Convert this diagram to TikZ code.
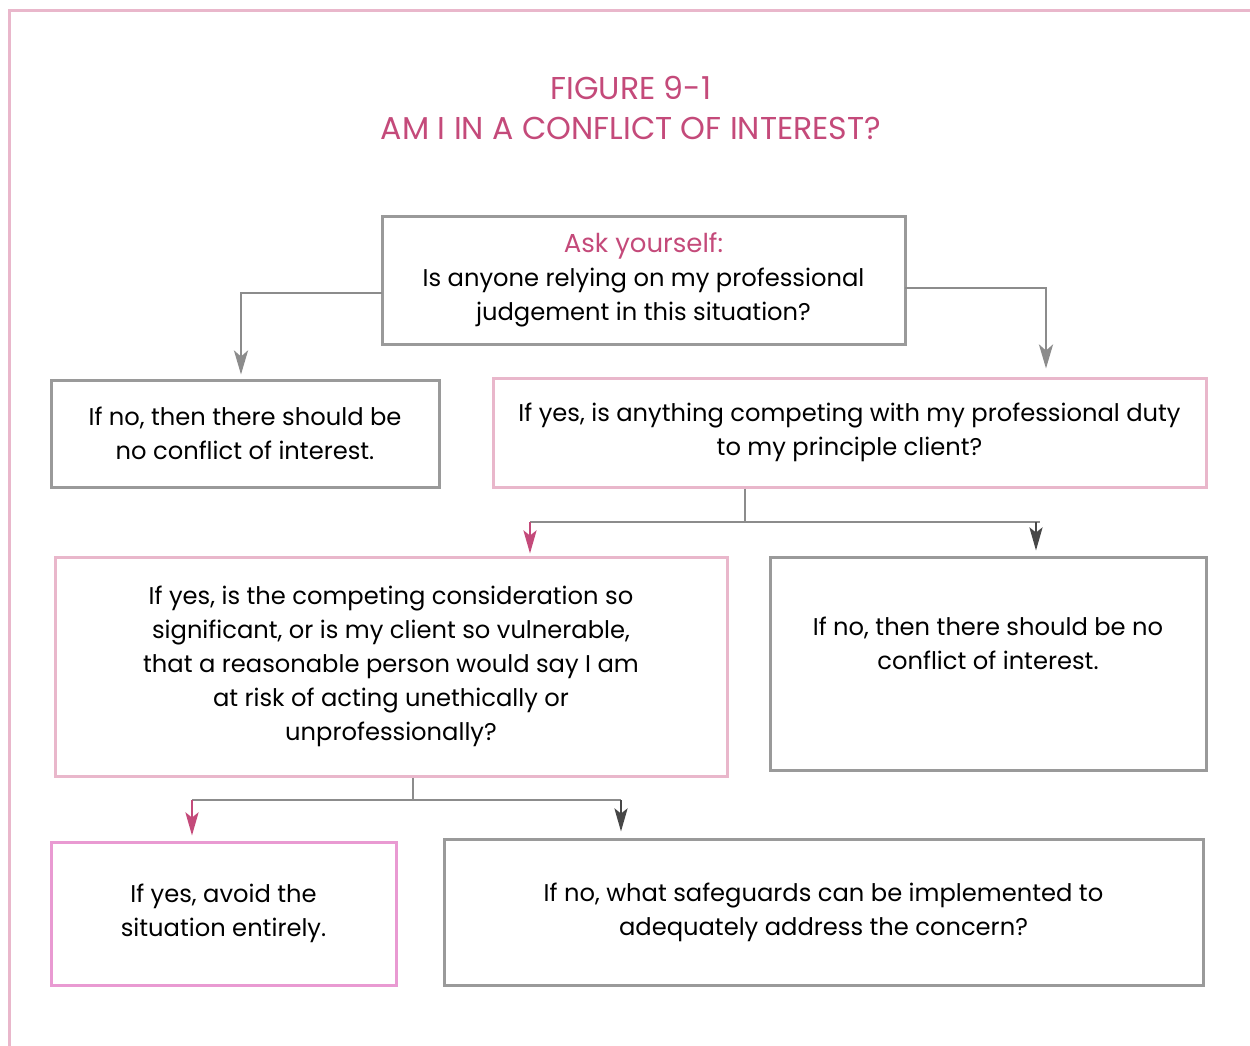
\documentclass[tikz,border=0pt]{standalone}
\usepackage{fontspec}
\setmainfont{Poppins}
\usetikzlibrary{arrows.meta}
\definecolor{pinktxt}{HTML}{C44A7A}
\definecolor{pinkbox}{HTML}{E9B7CB}
\definecolor{magbox}{HTML}{E99AD2}
\definecolor{grybox}{HTML}{9A9A9A}
\definecolor{gryarr}{HTML}{8C8C8C}
\definecolor{darkarr}{HTML}{474747}
\tikzset{
  bodyfont/.style={font=\fontsize{12.1}{17}\selectfont},
  box/.style={draw=grybox, line width=1.5pt, align=center, inner sep=0pt, bodyfont},
  pbox/.style={box, draw=pinkbox},
  mbox/.style={box, draw=magbox},
  gline/.style={draw=gryarr, line width=1.4pt},
  garrow/.style={gline, -{Stealth[length=12pt,width=7pt,inset=3pt]}},
  parrow/.style={gline, draw=pinktxt, -{Stealth[length=11.5pt,width=6.5pt,inset=2.5pt]}},
  darrow/.style={gline, draw=darkarr, -{Stealth[length=11.5pt,width=6.5pt,inset=2.5pt]}},
}
\begin{document}
\begin{tikzpicture}[x=0.5pt,y=-0.5pt]
\useasboundingbox (0,0) rectangle (1250,1046);
% frame
\draw[pinkbox, line width=1.5pt] (9,1046) -- (9,10) -- (1250,10);
% title
\node[text=pinktxt, align=center, font=\fontsize{15.8}{20}\selectfont] (title) at (631,108) {FIGURE 9-1\\AM I IN A CONFLICT OF INTEREST?};
% boxes
\node[box, minimum width=261.5pt, minimum height=64pt] (top) at (643.5,280) {{\color{pinktxt}\fontsize{13}{17}\selectfont Ask yourself:}\\Is anyone relying on my professional\\judgement in this situation?};
\node[box, minimum width=194pt, minimum height=53.5pt] (A) at (245,433.5) {If no, then there should be\\no conflict of interest.};
\node[pbox, minimum width=356.5pt, minimum height=54.5pt] (B) at (849.5,432.5) {If yes, is anything competing with my professional duty\\to my principle client?};
\node[pbox, minimum width=336pt, minimum height=109.5pt] (C) at (391,666.5) {If yes, is the competing consideration so\\significant, or is my client so vulnerable,\\that a reasonable person would say I am\\at risk of acting unethically or\\unprofessionally?};
\node[box, minimum width=218pt, minimum height=106.5pt] (D) at (988,663.5) {};
\node[align=center, inner sep=0pt, bodyfont] (Dtext) at (988,643) {If no, then there should be no\\conflict of interest.};
\node[mbox, minimum width=172.5pt, minimum height=71.5pt] (E) at (223.5,913.5) {If yes, avoid the\\situation entirely.};
\node[box, minimum width=379.5pt, minimum height=73pt] (F) at (823.5,912) {If no, what safeguards can be implemented to\\adequately address the concern?};
% connectors from top box
\coordinate (tl) at (382,293);
\coordinate (tr) at (905,288);
\draw[garrow] (tl) -| ([xshift=-2pt,yshift=2pt]A.north);
\draw[garrow] (tr) -| ([xshift=98.25pt,yshift=4pt]B.north);
% from B
\coordinate (b1) at (745,522);
\coordinate (bl) at (530,522);
\coordinate (br) at (1040,522);
\coordinate (bd) at (1036,522);
\draw[gline] (B.south -| b1) -- (b1);
\draw[gline] (bl) -- (br);
\draw[parrow] (bl) -- ([yshift=1pt]C.north -| bl);
\draw[darrow] (bd) -- ([yshift=2.5pt]D.north -| bd);
% from C
\coordinate (c1) at (413,800);
\coordinate (cl) at (192,800);
\coordinate (cr) at (621,800);
\draw[gline] (C.south -| c1) -- (c1);
\draw[gline] (cl) -- (cr);
\draw[parrow] (cl) -- ([yshift=2.5pt]E.north -| cl);
\draw[darrow] (cr) -- ([yshift=3pt]F.north -| cr);
\end{tikzpicture}
\end{document}
